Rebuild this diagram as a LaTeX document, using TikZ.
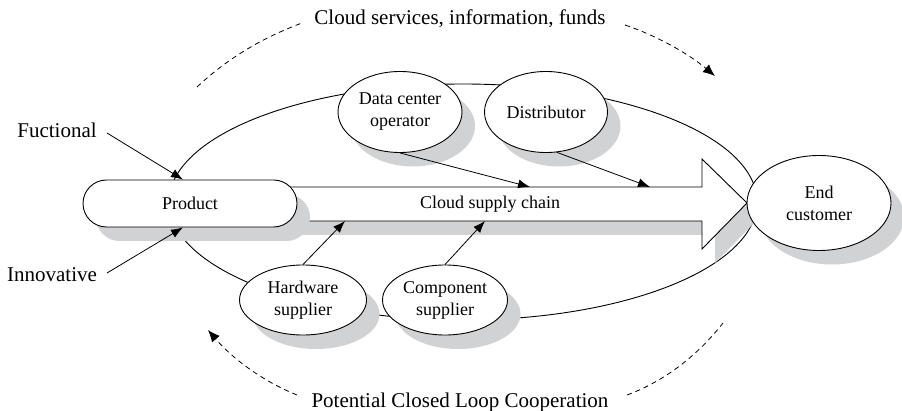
\documentclass[tikz,border=0pt]{standalone}
\usepackage{fontspec}
\setmainfont{Liberation Serif}
\usetikzlibrary{shapes.geometric,shadows,arrows.meta,calc}
\definecolor{shadowgray}{RGB}{209,210,212}
\begin{document}
\begin{tikzpicture}[x=1pt,y=-1pt,
  every node/.style={font=\fontsize{18}{22}\selectfont},
  outline/.style={draw=black, line width=0.9pt},
  sh/.style={drop shadow={shadow xshift=13pt, shadow yshift=-14pt, fill=shadowgray, opacity=1}},
  ell/.style={ellipse, outline, fill=white, sh, inner sep=0pt, align=center},
  conn/.style={line width=0.8pt, -{Latex[length=12pt,width=9pt]}},
  dashline/.style={line width=0.8pt, dash pattern=on 5pt off 4pt},
  dasharrow/.style={dashline, -{Latex[length=12pt,width=10pt]}},
  biglabel/.style={font=\fontsize{21}{25}\selectfont, inner sep=0pt, anchor=base}
]
\useasboundingbox (0,0) rectangle (902,411);

% closed loop ellipse
\draw[line width=0.9pt] (463,202) ellipse [x radius=294pt, y radius=118pt];

% big supply chain arrow
\path[outline, fill=white, sh] (255,187) -- (702,187) -- (702,159) -- (747,203)
  -- (702,249) -- (702,221) -- (255,221) -- cycle;
\node[inner sep=0pt] (chain) at (490,204) {Cloud supply chain};

% nodes
\node[outline, fill=white, sh, rectangle, rounded corners=23.5pt,
      minimum width=214pt, minimum height=47pt] (prod) at (190,203.5) {Product};
\node[ell, minimum width=124pt, minimum height=81pt] (dc) at (400,112) {Data center\\operator};
\node[ell, minimum width=123pt, minimum height=81pt] (dist) at (546,112) {Distributor};
\node[ell, minimum width=127pt, minimum height=70pt] (hw) at (303,300) {Hardware\\supplier};
\node[ell, minimum width=125pt, minimum height=70pt] (comp) at (445,300) {Component\\supplier};
\node[ell, minimum width=144pt, minimum height=95pt] (cust) at (819,203) {End\\customer};

% outside labels
\node[biglabel] (fuc) at (57,138) {Fuctional};
\node[biglabel] (inn) at (52,282) {Innovative};
\node[biglabel] (top) at (460,25) {Cloud services, information, funds};
\node[biglabel] (bot) at (460,407) {Potential Closed Loop Cooperation};

% coordinates
\coordinate (fstart) at (107,133);
\coordinate (istart) at (107,273);
\coordinate (dtip) at (530,187);
\coordinate (stip) at (650,187);
\coordinate (htip) at (345,221);
\coordinate (ctip) at (485,221);

% connectors
\draw[conn] (fstart) -- ($(prod.north)+(-7,0)$);
\draw[conn] (istart) -- ($(prod.south)+(-7,0)$);
\draw[conn] (dc.south) -- (dtip);
\draw[conn] (dist.-75) -- (stip);
\draw[conn] (hw.north) -- (htip);
\draw[conn] (comp.north) -- (ctip);

% dashed arcs
\coordinate (a1) at (197,87);  \coordinate (a2) at (302,23);
\coordinate (b1) at (625,25);  \coordinate (b2) at (715,76);
\coordinate (c1) at (297,395); \coordinate (c2) at (208,330);
\coordinate (d1) at (627,395); \coordinate (d2) at (723,323);
\draw[dashline] (a1) .. controls (228,58) and (262,38) .. (a2);
\draw[dasharrow] (b1) .. controls (660,37) and (690,55) .. (b2);
\draw[dasharrow] (c1) .. controls (262,381) and (232,358) .. (c2);
\draw[dashline] (d1) .. controls (665,381) and (698,355) .. (d2);
\end{tikzpicture}
\end{document}
